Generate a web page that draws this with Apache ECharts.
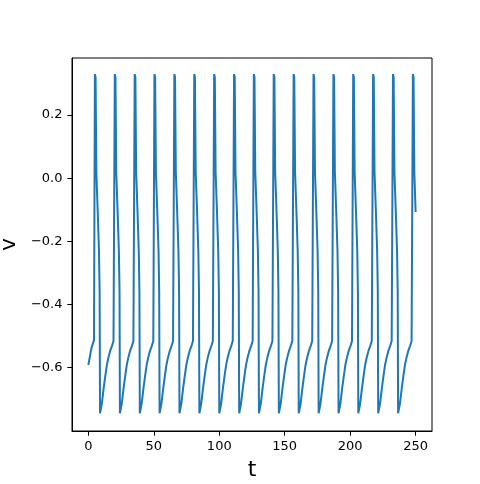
<!DOCTYPE html>
<html>
<head>
<meta charset="utf-8">
<script src="https://cdn.jsdelivr.net/npm/echarts@6/dist/echarts.min.js"></script>
<style>
html,body{margin:0;padding:0;background:#fff;}
#chart{width:480px;height:484px;}
</style>
</head>
<body>
<div id="chart"></div>
<script>
// time values
const tPoints = [
  0, 2.3, 4.3,
  4.8, 5.0, 5.5, 6.1, 7.1, 8.1, 8.6, 8.9, 10.3, 11.7, 13.0, 14.2, 15.4, 16.6, 18.0, 19.2,
  20.0, 20.2, 20.7, 21.3, 22.3, 23.3, 23.8, 24.1, 25.5, 26.9, 28.2, 29.4, 30.6, 31.8, 33.2, 34.4,
  35.2, 35.4, 35.9, 36.5, 37.5, 38.5, 39.0, 39.3, 40.7, 42.1, 43.4, 44.6, 45.8, 47.0, 48.4, 49.6,
  50.3, 50.5, 51.0, 51.6, 52.6, 53.6, 54.1, 54.4, 55.8, 57.2, 58.5, 59.7, 60.9, 62.1, 63.5, 64.7,
  65.5, 65.7, 66.2, 66.8, 67.8, 68.8, 69.3, 69.6, 71.0, 72.4, 73.7, 74.9, 76.1, 77.3, 78.7, 79.9,
  80.7, 80.9, 81.4, 82.0, 83.0, 84.0, 84.5, 84.8, 86.2, 87.6, 88.9, 90.1, 91.3, 92.5, 93.9, 95.1,
  95.9, 96.1, 96.6, 97.2, 98.2, 99.2, 99.7, 100.0, 101.4, 102.8, 104.1, 105.3, 106.5, 107.7, 109.1, 110.3,
  111.1, 111.3, 111.8, 112.4, 113.4, 114.4, 114.9, 115.2, 116.6, 118.0, 119.3, 120.5, 121.7, 122.9, 124.3, 125.5,
  126.2, 126.4, 126.9, 127.5, 128.5, 129.5, 130.0, 130.3, 131.7, 133.1, 134.4, 135.6, 136.8, 138.0, 139.4, 140.6,
  141.4, 141.6, 142.1, 142.7, 143.7, 144.7, 145.2, 145.5, 146.9, 148.3, 149.6, 150.8, 152.0, 153.2, 154.6, 155.8,
  156.6, 156.8, 157.3, 157.9, 158.9, 159.9, 160.4, 160.7, 162.1, 163.5, 164.8, 166.0, 167.2, 168.4, 169.8, 171.0,
  171.8, 172.0, 172.5, 173.1, 174.1, 175.1, 175.6, 175.9, 177.3, 178.7, 180.0, 181.2, 182.4, 183.6, 185.0, 186.2,
  187.0, 187.2, 187.7, 188.3, 189.3, 190.3, 190.8, 191.1, 192.5, 193.9, 195.2, 196.4, 197.6, 198.8, 200.2, 201.4,
  202.1, 202.3, 202.8, 203.4, 204.4, 205.4, 205.9, 206.2, 207.6, 209.0, 210.3, 211.5, 212.7, 213.9, 215.3, 216.5,
  217.3, 217.5, 218.0, 218.6, 219.6, 220.6, 221.1, 221.4, 222.8, 224.2, 225.5, 226.7, 227.9, 229.1, 230.5, 231.7,
  232.5, 232.7, 233.2, 233.8, 234.8, 235.8, 236.3, 236.6, 238.0, 239.4, 240.7, 241.9, 243.1, 244.3, 245.7, 246.9,
  247.7, 247.9, 248.4, 249.0, 250.0
];
// v values
const vPoints = [
  -0.592, -0.539, -0.513,
  -0.51, 0.33, 0.32, 0.02, -0.10, -0.23, -0.36, -0.745, -0.715, -0.665, -0.625, -0.59, -0.567, -0.548, -0.532, -0.516,
  -0.51, 0.33, 0.32, 0.02, -0.10, -0.23, -0.36, -0.745, -0.715, -0.665, -0.625, -0.59, -0.567, -0.548, -0.532, -0.516,
  -0.51, 0.33, 0.32, 0.02, -0.10, -0.23, -0.36, -0.745, -0.715, -0.665, -0.625, -0.59, -0.567, -0.548, -0.532, -0.516,
  -0.51, 0.33, 0.32, 0.02, -0.10, -0.23, -0.36, -0.745, -0.715, -0.665, -0.625, -0.59, -0.567, -0.548, -0.532, -0.516,
  -0.51, 0.33, 0.32, 0.02, -0.10, -0.23, -0.36, -0.745, -0.715, -0.665, -0.625, -0.59, -0.567, -0.548, -0.532, -0.516,
  -0.51, 0.33, 0.32, 0.02, -0.10, -0.23, -0.36, -0.745, -0.715, -0.665, -0.625, -0.59, -0.567, -0.548, -0.532, -0.516,
  -0.51, 0.33, 0.32, 0.02, -0.10, -0.23, -0.36, -0.745, -0.715, -0.665, -0.625, -0.59, -0.567, -0.548, -0.532, -0.516,
  -0.51, 0.33, 0.32, 0.02, -0.10, -0.23, -0.36, -0.745, -0.715, -0.665, -0.625, -0.59, -0.567, -0.548, -0.532, -0.516,
  -0.51, 0.33, 0.32, 0.02, -0.10, -0.23, -0.36, -0.745, -0.715, -0.665, -0.625, -0.59, -0.567, -0.548, -0.532, -0.516,
  -0.51, 0.33, 0.32, 0.02, -0.10, -0.23, -0.36, -0.745, -0.715, -0.665, -0.625, -0.59, -0.567, -0.548, -0.532, -0.516,
  -0.51, 0.33, 0.32, 0.02, -0.10, -0.23, -0.36, -0.745, -0.715, -0.665, -0.625, -0.59, -0.567, -0.548, -0.532, -0.516,
  -0.51, 0.33, 0.32, 0.02, -0.10, -0.23, -0.36, -0.745, -0.715, -0.665, -0.625, -0.59, -0.567, -0.548, -0.532, -0.516,
  -0.51, 0.33, 0.32, 0.02, -0.10, -0.23, -0.36, -0.745, -0.715, -0.665, -0.625, -0.59, -0.567, -0.548, -0.532, -0.516,
  -0.51, 0.33, 0.32, 0.02, -0.10, -0.23, -0.36, -0.745, -0.715, -0.665, -0.625, -0.59, -0.567, -0.548, -0.532, -0.516,
  -0.51, 0.33, 0.32, 0.02, -0.10, -0.23, -0.36, -0.745, -0.715, -0.665, -0.625, -0.59, -0.567, -0.548, -0.532, -0.516,
  -0.51, 0.33, 0.32, 0.02, -0.10, -0.23, -0.36, -0.745, -0.715, -0.665, -0.625, -0.59, -0.567, -0.548, -0.532, -0.516,
  -0.51, 0.33, 0.32, 0.02, -0.107
];
const xTicks = [0, 50, 100, 150, 200, 250];
const yTicks = [-0.6, -0.4, -0.2, 0.0, 0.2];

const data = tPoints.map((t, i) => [t, vPoints[i]]);
const font = 'DejaVu Sans';

const chart = echarts.init(document.getElementById('chart'), null, {renderer: 'canvas'});
chart.setOption({
  animation: false,
  backgroundColor: '#ffffff',
  grid: {
    left: 72, right: 48, top: 58, bottom: 53,
    containLabel: false,
    outerBoundsMode: 'none',
    show: true, borderColor: '#000', borderWidth: 1, backgroundColor: 'transparent'
  },
  xAxis: {
    type: 'value',
    min: -12.5, max: 262.5,
    name: 't',
    nameLocation: 'middle',
    nameGap: 28,
    nameTextStyle: {fontFamily: font, fontSize: 22, color: '#000'},
    axisLine: {show: true, onZero: false, lineStyle: {color: '#000', width: 1}},
    axisTick: {show: true, inside: false, length: 4.7, lineStyle: {color: '#000', width: 1}, customValues: xTicks},
    axisLabel: {fontFamily: font, fontSize: 13, color: '#000', margin: 9, customValues: xTicks,
      formatter: v => String(v)},
    splitLine: {show: false}
  },
  yAxis: {
    type: 'value',
    min: -0.801, max: 0.381,
    name: 'v',
    nameLocation: 'middle',
    nameGap: 49,
    nameTextStyle: {fontFamily: font, fontSize: 22, color: '#000'},
    axisLine: {show: true, onZero: false, lineStyle: {color: '#000', width: 1}},
    axisTick: {show: true, inside: false, length: 4.7, lineStyle: {color: '#000', width: 1}, customValues: yTicks},
    axisLabel: {fontFamily: font, fontSize: 13, color: '#000', margin: 9.5, customValues: yTicks,
      formatter: v => v.toFixed(1).replace('-', '\u2212')},
    splitLine: {show: false}
  },
  series: [{
    type: 'line',
    data: data,
    showSymbol: false,
    symbol: 'none',
    lineStyle: {color: '#1f77b4', width: 2},
    itemStyle: {color: '#1f77b4'},
    clip: true
  }]
});
</script>
</body>
</html>
